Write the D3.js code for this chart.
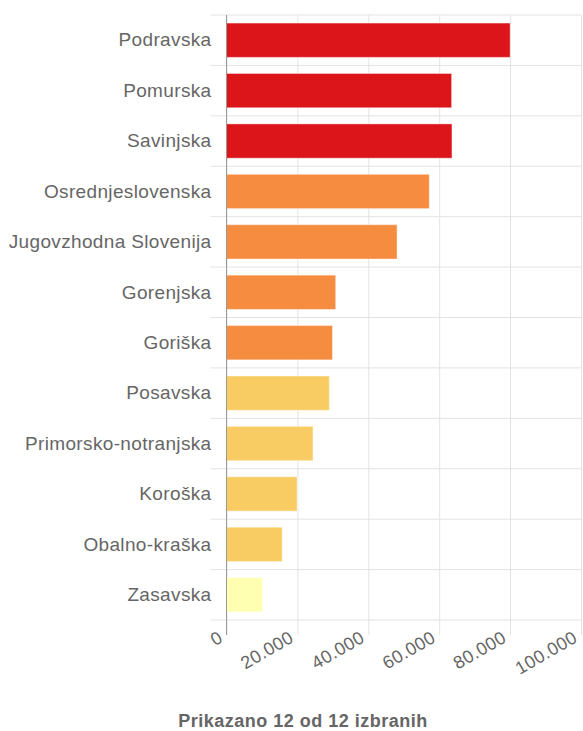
<!DOCTYPE html>
<html lang="sl">
<head>
    <meta charset="UTF-8">
    <title>Prikazano 12 od 12 izbranih</title>
    <script src="https://d3js.org/d3.v7.min.js"></script>
    <style>
        body { margin: 0; background: #fff; }
        svg text { font-family: "Liberation Sans", Arial, sans-serif; fill: #666; }
    </style>
</head>
<body>
    <svg width="583" height="731"></svg>
    <script>
        const regions = ['Podravska', 'Pomurska', 'Savinjska', 'Osrednjeslovenska', 'Jugovzhodna Slovenija',
            'Gorenjska', 'Goriška', 'Posavska', 'Primorsko-notranjska', 'Koroška', 'Obalno-kraška', 'Zasavska'];
        const values = [80000, 63500, 63600, 57200, 48100, 30800, 29900, 29000, 24400, 19900, 15700, 10200];
        const classes = [3, 3, 3, 2, 2, 2, 2, 1, 1, 1, 1, 0];
        const xTicks = [0, 20000, 40000, 60000, 80000, 100000];
        const palette = ['#ffffb2', '#f9cb63', '#f68c3f', '#dc151a'];
        const footer = 'Prikazano 12 od 12 izbranih';

        const data = regions.map((r, i) => ({ region: r, value: values[i], cls: classes[i] }));

        const svg = d3.select('svg');
        const plotLeft = 226.5, plotRight = 581, plotTop = 15, plotBottom = 620;

        const x = d3.scaleLinear().domain([0, 100000]).range([plotLeft, plotRight]);
        const y = d3.scaleBand().domain(regions).range([plotTop, plotBottom]).paddingInner(0.32).paddingOuter(0.16);
        const fmt = d => d3.format(',')(d).replace(/,/g, '.');

        // horizontal grid lines (band edges)
        const step = y.step();
        svg.append('g').selectAll('line')
            .data(d3.range(regions.length + 1))
            .join('line')
            .attr('x1', plotLeft - 16).attr('x2', plotRight)
            .attr('y1', i => plotTop + i * step).attr('y2', i => plotTop + i * step)
            .attr('stroke', '#e3e3e3');

        // vertical grid + x axis
        const xa = svg.append('g')
            .attr('transform', `translate(0,${plotBottom + 15})`)
            .call(d3.axisBottom(x).tickValues(xTicks).tickSize(-(plotBottom + 15 - plotTop)).tickFormat(fmt));
        xa.select('.domain').remove();
        xa.selectAll('.tick line').attr('stroke', '#e3e3e3');
        xa.selectAll('.tick text')
            .attr('y', 0).attr('dy', 0)
            .attr('text-anchor', 'end')
            .attr('transform', 'translate(-3,6) rotate(-30)')
            .style('font-size', '18px')
            .style('letter-spacing', '0.4px')
            .attr('fill', '#666');

        // bars
        svg.append('g').selectAll('rect')
            .data(data)
            .join('rect')
            .attr('x', x(0))
            .attr('y', d => y(d.region))
            .attr('width', d => x(d.value) - x(0))
            .attr('height', y.bandwidth())
            .attr('fill', d => palette[d.cls])
            .attr('stroke', '#fff')
            .attr('stroke-opacity', 0.4)
            .attr('stroke-width', 1);

        // y axis line
        svg.append('line')
            .attr('x1', plotLeft).attr('x2', plotLeft)
            .attr('y1', plotTop).attr('y2', plotBottom + 15)
            .attr('stroke', '#999');

        // category labels
        svg.append('g').selectAll('text')
            .data(regions)
            .join('text')
            .attr('x', plotLeft - 15)
            .attr('y', d => y(d) + y.bandwidth() / 2)
            .attr('dy', '0.33em')
            .attr('text-anchor', 'end')
            .style('font-size', '19px')
            .style('letter-spacing', '0.35px')
            .text(d => d);

        svg.append('text')
            .attr('x', 303).attr('y', 727)
            .attr('text-anchor', 'middle')
            .style('font-size', '18px')
            .style('font-weight', 'bold')
            .style('letter-spacing', '0.5px')
            .text(footer);
    </script>
</body>
</html>
